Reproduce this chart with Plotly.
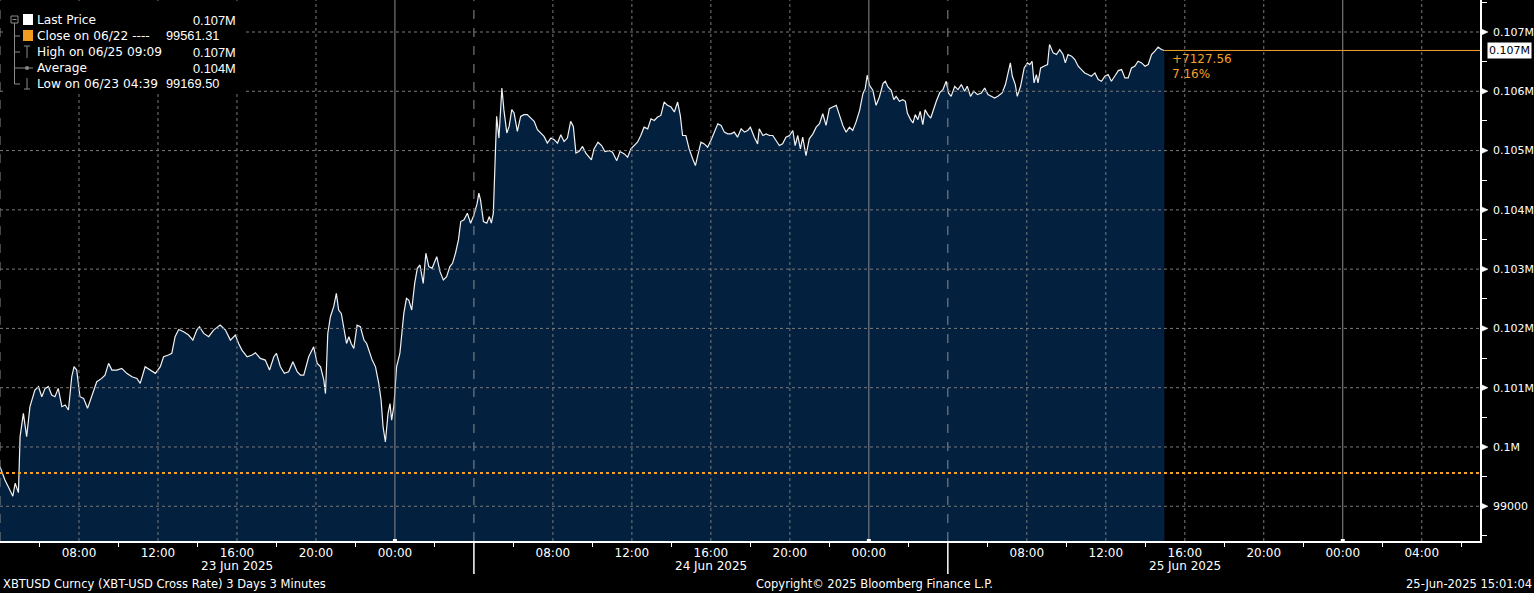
import pandas as pd
import plotly.graph_objects as go

# ---------------- data ----------------
CHART_START = pd.Timestamp("2025-06-23 04:00")
AXIS_END = pd.Timestamp("2025-06-26 06:57")

# minutes since 2025-06-23 04:00 and price (USD) for each session
s1_minutes = [0, 15, 30, 39, 46, 56, 61, 71, 81, 91, 106, 117, 127, 137, 147, 157, 167, 177, 188, 198,
              208, 218, 225, 233, 243, 254, 266, 279, 294, 309, 319, 330, 340, 355, 370, 385, 401, 416, 426, 441,
              456, 472, 487, 497, 512, 522, 532, 543, 558, 573, 586, 598, 606, 619, 634, 649, 669, 685, 700, 715,
              725, 735, 751, 766, 776, 791, 806, 819, 832, 840, 852, 864, 877, 890, 903, 913, 923, 938, 953, 964,
              974, 984, 989, 996, 1004, 1014, 1022, 1029, 1037, 1045, 1053, 1060, 1067, 1075, 1085, 1095, 1106, 1114, 1121, 1131,
              1141, 1151, 1158, 1164, 1171, 1179, 1185, 1190, 1197, 1205, 1215, 1227, 1235, 1242, 1251, 1260, 1268, 1276, 1286, 1294,
              1303, 1313, 1327, 1337, 1347, 1357, 1367, 1375, 1384, 1393, 1400, 1410, 1420, 1430]
s1_prices = [99669, 99444, 99275, 99170, 99388, 99230, 100174, 100567, 100174, 100680, 100961, 101017, 100848, 100989, 101017, 100876, 100848, 100989, 100680, 100708,
             100624, 101185, 101354, 101298, 100848, 100820, 100652, 100848, 101101, 101157, 101213, 101410, 101298, 101298, 101326, 101242, 101185, 101157, 101073, 101354,
             101298, 101242, 101354, 101522, 101551, 101579, 101860, 101983, 101944, 101888, 101803, 101972, 102028, 101916, 101860, 101972, 102056, 101972, 101803, 101888,
             101747, 101635, 101522, 101551, 101590, 101494, 101466, 101298, 101522, 101579, 101354, 101242, 101270, 101438, 101270, 101211, 101211, 101521, 101690, 101408,
             101352, 101127, 100901, 101915, 102197, 102366, 102591, 102310, 102253, 102028, 101746, 101859, 101746, 101662, 102056, 102028, 101803, 101746, 101634, 101465,
             101352, 101070, 100789, 100338, 100084, 100563, 100732, 100451, 100704, 101352, 101577, 102253, 102507, 102479, 102310, 102760, 103014, 103070, 102760, 103268,
             103042, 103014, 103211, 102958, 102817, 102873, 103042, 103098, 103268, 103493, 103803, 103831, 103944, 103775]

s2_minutes = [1440, 1450, 1455, 1460, 1469, 1479, 1487, 1493, 1499, 1504, 1509, 1516, 1521, 1525, 1531, 1540, 1547, 1555, 1562, 1572,
              1582, 1592, 1602, 1613, 1623, 1633, 1643, 1653, 1663, 1674, 1684, 1694, 1704, 1714, 1724, 1734, 1742, 1750, 1760, 1770,
              1780, 1790, 1797, 1805, 1817, 1828, 1838, 1851, 1861, 1874, 1884, 1897, 1907, 1917, 1927, 1937, 1947, 1957, 1968, 1978,
              1988, 1998, 2008, 2018, 2028, 2039, 2049, 2059, 2067, 2074, 2084, 2094, 2105, 2113, 2120, 2130, 2140, 2150, 2160, 2170,
              2181, 2191, 2201, 2211, 2221, 2231, 2241, 2252, 2262, 2272, 2280, 2292, 2302, 2307, 2318, 2328, 2338, 2348, 2358, 2368,
              2378, 2388, 2399, 2409, 2416, 2424, 2432, 2439, 2449, 2459, 2470, 2480, 2490, 2500, 2510, 2520, 2530, 2541, 2551, 2561,
              2571, 2581, 2591, 2601, 2612, 2622, 2629, 2635, 2642, 2652, 2662, 2672, 2683, 2690, 2698, 2708, 2716, 2723, 2733, 2743,
              2751, 2757, 2767, 2774, 2781, 2789, 2796, 2804, 2811, 2819, 2828, 2836, 2845, 2855, 2865, 2875]
s2_prices = [103915, 104113, 104282, 104169, 103803, 103775, 103887, 103775, 103944, 104901, 105577, 105211, 105746, 106056, 105690, 105296, 105408, 105690, 105634, 105324,
             105577, 105606, 105606, 105549, 105493, 105352, 105296, 105239, 105127, 105211, 105183, 105127, 105268, 105155, 105211, 105493, 105408, 104958, 104986, 105070,
             104958, 104901, 104845, 105028, 105141, 105085, 104983, 105000, 104972, 104830, 104983, 104943, 104887, 105028, 105085, 105141, 105254, 105395, 105367, 105537,
             105508, 105565, 105593, 105819, 105763, 105734, 105650, 105819, 105593, 105254, 105254, 105028, 104859, 104746, 104915, 105141, 105113, 105056, 105169, 105311,
             105452, 105424, 105311, 105282, 105282, 105311, 105226, 105367, 105311, 105339, 105395, 105226, 105113, 105367, 105254, 105282, 105254, 105254, 105169, 105085,
             105113, 105226, 105254, 105339, 105085, 105254, 105028, 105226, 104915, 105198, 105282, 105395, 105452, 105621, 105424, 105706, 105734, 105763, 105593, 105424,
             105311, 105395, 105339, 105480, 105678, 105960, 106045, 106271, 106102, 106017, 105763, 105904, 106130, 106170, 106073, 106017, 105859, 105915, 105831, 105859,
             105831, 105634, 105521, 105465, 105606, 105521, 105662, 105437, 105690, 105606, 105549, 105690, 105831, 105972, 106028, 106169]

s3_minutes = [2882, 2890, 2901, 2911, 2921, 2931, 2939, 2949, 2959, 2970, 2982, 2992, 3002, 3012, 3022, 3032, 3045, 3055, 3063, 3070,
              3076, 3085, 3091, 3101, 3112, 3122, 3129, 3136, 3142, 3149, 3154, 3162, 3172, 3183, 3189, 3200, 3210, 3220, 3230, 3237,
              3245, 3256, 3266, 3276, 3286, 3296, 3306, 3316, 3327, 3337, 3347, 3357, 3367, 3377, 3387, 3398, 3408, 3418, 3428, 3438,
              3448, 3458, 3469, 3479, 3489, 3499, 3509, 3519, 3529, 3538]
s3_prices = [105972, 105915, 106085, 106028, 106113, 106000, 106085, 105915, 106000, 105944, 105972, 106056, 105944, 105915, 105887, 105915, 105972, 106113, 106282, 106479,
             106254, 106113, 105915, 106085, 106394, 106479, 106451, 106507, 106141, 106282, 106141, 106394, 106423, 106451, 106789, 106648, 106620, 106704, 106620, 106479,
             106620, 106592, 106535, 106423, 106366, 106310, 106282, 106254, 106310, 106197, 106169, 106254, 106282, 106169, 106254, 106349, 106366, 106225, 106225, 106394,
             106423, 106507, 106479, 106423, 106451, 106620, 106676, 106744, 106704, 106688.87]

prev_close = 99561.31
net_change = "+7127.56"
pct_change = "7.16%"

legend_rows = ["Last Price", "Close on 06/22 ----", "High on 06/25 09:09", "Average", "Low on 06/23 04:39"]
legend_values = ["0.107M", "99561.31", "0.107M", "0.104M", "99169.50"]

y_tick_vals = [99000, 100000, 101000, 102000, 103000, 104000, 105000, 106000, 107000]
y_tick_text = ["99000", "0.1M", "0.101M", "0.102M", "0.103M", "0.104M", "0.105M", "0.106M", "0.107M"]
y_range = [98414, 107540]

session_starts = ["2025-06-23 04:00", "2025-06-24 04:00", "2025-06-25 04:00"]
midnights = ["2025-06-24 00:00", "2025-06-25 00:00", "2025-06-26 00:00"]
date_label_times = ["2025-06-23 16:00", "2025-06-24 16:00", "2025-06-25 16:00"]
date_labels = ["23 Jun 2025", "24 Jun 2025", "25 Jun 2025"]

footer_left = "XBTUSD Curncy (XBT-USD Cross Rate) 3 Days 3 Minutes"
footer_mid = "Copyright\u00a9 2025 Bloomberg Finance L.P."
footer_right = "25-Jun-2025 15:01:04"

# ---------------- build ----------------
minutes = s1_minutes + s2_minutes + s3_minutes
prices = s1_prices + s2_prices + s3_prices
times = [CHART_START + pd.Timedelta(minutes=m) for m in minutes]
last_time = times[-1]
last_price = prices[-1]

FONT = "DejaVu Sans"
NUMFONT = "Liberation Sans"
ORANGE = "#f5a02a"
GRID = "#7a7a7a"
W_PLOT, H_PLOT = 1480, 541


def fx(px):
    return px / W_PLOT


def fy(py):
    return 1 - py / H_PLOT


def vfrac(v):
    return (v - y_range[0]) / (y_range[1] - y_range[0])


def tfrac(t):
    t = pd.Timestamp(t)
    return (t - CHART_START) / (AXIS_END - CHART_START)


fig = go.Figure()
fig.add_trace(go.Scatter(
    x=times, y=prices, mode="lines",
    line=dict(color="#f2f2f2", width=1.2),
    fill="tozeroy", fillcolor="#03203f",
    hoverinfo="skip", showlegend=False,
))

shapes = []
# vertical grid every 4 hours
grid_times = pd.date_range("2025-06-23 08:00", "2025-06-26 04:00", freq="4h")
sess = set(pd.Timestamp(s) for s in session_starts)
mids = set(pd.Timestamp(m) for m in midnights)
for t in list(grid_times) + [pd.Timestamp(session_starts[0])]:
    if t in mids:
        dash, col = "solid", "#8c8c8c"
    elif t in sess:
        dash, col = "dash", "#8c8c8c"
    else:
        dash, col = "dot", GRID
    shapes.append(dict(type="line", xref="x", yref="paper", x0=t, x1=t, y0=0, y1=1,
                       line=dict(color=col, width=1, dash=dash), layer="above"))
# horizontal grid
for v in y_tick_vals:
    shapes.append(dict(type="line", xref="paper", yref="y", x0=0, x1=1, y0=v, y1=v,
                       line=dict(color=GRID, width=1, dash="dot"), layer="above"))
# pointer triangles beside the price-axis labels (paper coordinates so they are not clipped)
dh = 3.2 / H_PLOT
for v in y_tick_vals:
    yc = vfrac(v)
    shapes.append(dict(type="path", xref="paper", yref="paper",
                       path=f"M {fx(W_PLOT + 1)},{yc + dh} L {fx(W_PLOT + 8)},{yc} L {fx(W_PLOT + 1)},{yc - dh} Z",
                       fillcolor="white", line=dict(color="white", width=0.5), layer="above"))
# previous close dotted line
shapes.append(dict(type="line", xref="paper", yref="y", x0=0, x1=1, y0=prev_close, y1=prev_close,
                   line=dict(color=ORANGE, width=2, dash="dot"), layer="above"))
# last price line
shapes.append(dict(type="line", xref="x", yref="y", x0=last_time, x1=AXIS_END, y0=last_price, y1=last_price,
                   line=dict(color=ORANGE, width=1), layer="above"))
# session separator ticks below the axis
for s in session_starts[1:]:
    f = tfrac(s)
    shapes.append(dict(type="line", xref="paper", yref="paper", x0=f, x1=f, y0=0, y1=-33 / H_PLOT,
                       line=dict(color="white", width=1.5), layer="above"))
# small squares at midnight on axis
for m in midnights:
    f = tfrac(m)
    shapes.append(dict(type="rect", xref="paper", yref="paper", x0=f - 2 / W_PLOT, x1=f + 2 / W_PLOT,
                       y0=-2 / H_PLOT, y1=2 / H_PLOT, fillcolor="white", line=dict(width=0), layer="above"))

# legend box
shapes.append(dict(type="rect", xref="paper", yref="paper", x0=fx(5), x1=fx(244), y0=fy(4), y1=fy(93),
                   fillcolor="black", line=dict(width=0), layer="above"))
LG = "#8a8a8a"


def pline(x0, y0, x1, y1, col=LG, w=1):
    shapes.append(dict(type="line", xref="paper", yref="paper", x0=fx(x0), x1=fx(x1), y0=fy(y0), y1=fy(y1),
                       line=dict(color=col, width=w), layer="above"))


def prect(x0, y0, x1, y1, fill=None, col=LG, w=1):
    shapes.append(dict(type="rect", xref="paper", yref="paper", x0=fx(x0), x1=fx(x1), y0=fy(y0), y1=fy(y1),
                       fillcolor=fill if fill else "rgba(0,0,0,0)",
                       line=dict(color=col, width=w), layer="above"))


row_y = [20, 36, 52, 68, 84]
# tree icon and lines
prect(11, 16, 18, 23)
pline(12.5, 19.5, 16.5, 19.5)
pline(14.5, 23, 14.5, row_y[4])
for ry in row_y[1:]:
    pline(14.5, ry, 20, ry)
# colour squares
prect(23, 14, 33, 25, fill="white", col="white", w=0)
prect(23, 30, 33, 41, fill="#f39c1f", col="#f39c1f", w=0)
# high icon
pline(27, 46, 27, 58)
pline(24, 46, 30, 46)
# average icon
pline(20, 68, 33, 68)
shapes.append(dict(type="circle", xref="paper", yref="paper", x0=fx(25), x1=fx(29), y0=fy(66), y1=fy(70),
                   fillcolor=LG, line=dict(width=0), layer="above"))
# low icon
pline(27, 78, 27, 89)
pline(24, 89, 30, 89)

annotations = []


def ptext(text, x, y, anchor="left", size=12, color="white", family=FONT):
    annotations.append(dict(text=text, xref="paper", yref="paper", x=fx(x), y=fy(y), xanchor=anchor,
                            yanchor="middle", showarrow=False, font=dict(family=family, size=size, color=color)))


for i, (lbl, ry) in enumerate(zip(legend_rows, row_y)):
    ptext(lbl, 35, ry, size=12.2)
    right_x = 221 if legend_values[i] in ("99561.31", "99169.50") else 238
    ptext(legend_values[i], right_x, ry, anchor="right", size=12.8, family=NUMFONT)

# date labels under the axis
for t, lab in zip(date_label_times, date_labels):
    annotations.append(dict(text=lab, xref="x", yref="paper", x=t, y=fy(566), xanchor="center",
                            yanchor="middle", showarrow=False, font=dict(family=FONT, size=12, color="white")))

# footer
ptext(footer_left, 1, 584, size=11.5)
ptext(footer_mid, 874, 584, anchor="center", size=11.5)
ptext(footer_right, 1534, 584, anchor="right", size=11.5)

# change annotations
annotations.append(dict(text=net_change, xref="x", yref="y", x=last_time, y=last_price, xanchor="left",
                        yanchor="middle", xshift=6, yshift=-9, showarrow=False,
                        font=dict(family=FONT, size=12, color=ORANGE)))
annotations.append(dict(text=pct_change, xref="x", yref="y", x=last_time, y=last_price, xanchor="left",
                        yanchor="middle", xshift=6, yshift=-24, showarrow=False,
                        font=dict(family=FONT, size=12, color=ORANGE)))
# last price tag
annotations.append(dict(text="0.107M", xref="paper", yref="y", x=1, y=last_price, xanchor="left",
                        yanchor="middle", xshift=7, showarrow=False, bgcolor="white", borderpad=1,
                        font=dict(family=FONT, size=11, color="black")))

x_tick_times = [t for t in grid_times if t not in sess]
x_tick_text = [t.strftime("%H:%M") for t in x_tick_times]
x_minor = list(pd.date_range("2025-06-23 06:00", "2025-06-26 06:00", freq="4h"))
y_minor = [v + 500 for v in [98000] + y_tick_vals]

fig.update_layout(
    width=1534, height=593,
    margin=dict(l=0, r=54, t=0, b=52, pad=0),
    paper_bgcolor="black", plot_bgcolor="black",
    showlegend=False,
    shapes=shapes, annotations=annotations,
    xaxis=dict(type="date", range=[CHART_START, AXIS_END], tickmode="array",
               tickvals=x_tick_times, ticktext=x_tick_text, ticks="",
               tickfont=dict(family=FONT, size=12, color="white"),
               showgrid=False, zeroline=False, showline=True, linecolor="white", linewidth=1.5,
               minor=dict(ticks="outside", tickvals=x_minor, ticklen=4, tickcolor="white",
                          tickwidth=1, showgrid=False)),
    yaxis=dict(side="right", range=y_range, tickmode="array", tickvals=y_tick_vals,
               ticktext=y_tick_text, ticks="", ticklabelstandoff=9,
               tickfont=dict(family=FONT, size=11, color="white"),
               showgrid=False, zeroline=False, showline=True, linecolor="white", linewidth=1.5,
               minor=dict(ticks="outside", tickvals=y_minor, ticklen=5, tickcolor="white",
                          tickwidth=1, showgrid=False)),
)

fig.write_html(
    "out.html",
    config={"displayModeBar": False},
    post_script="document.body.style.margin='0';document.body.style.overflow='hidden';"
                "document.body.style.background='black';",
)
